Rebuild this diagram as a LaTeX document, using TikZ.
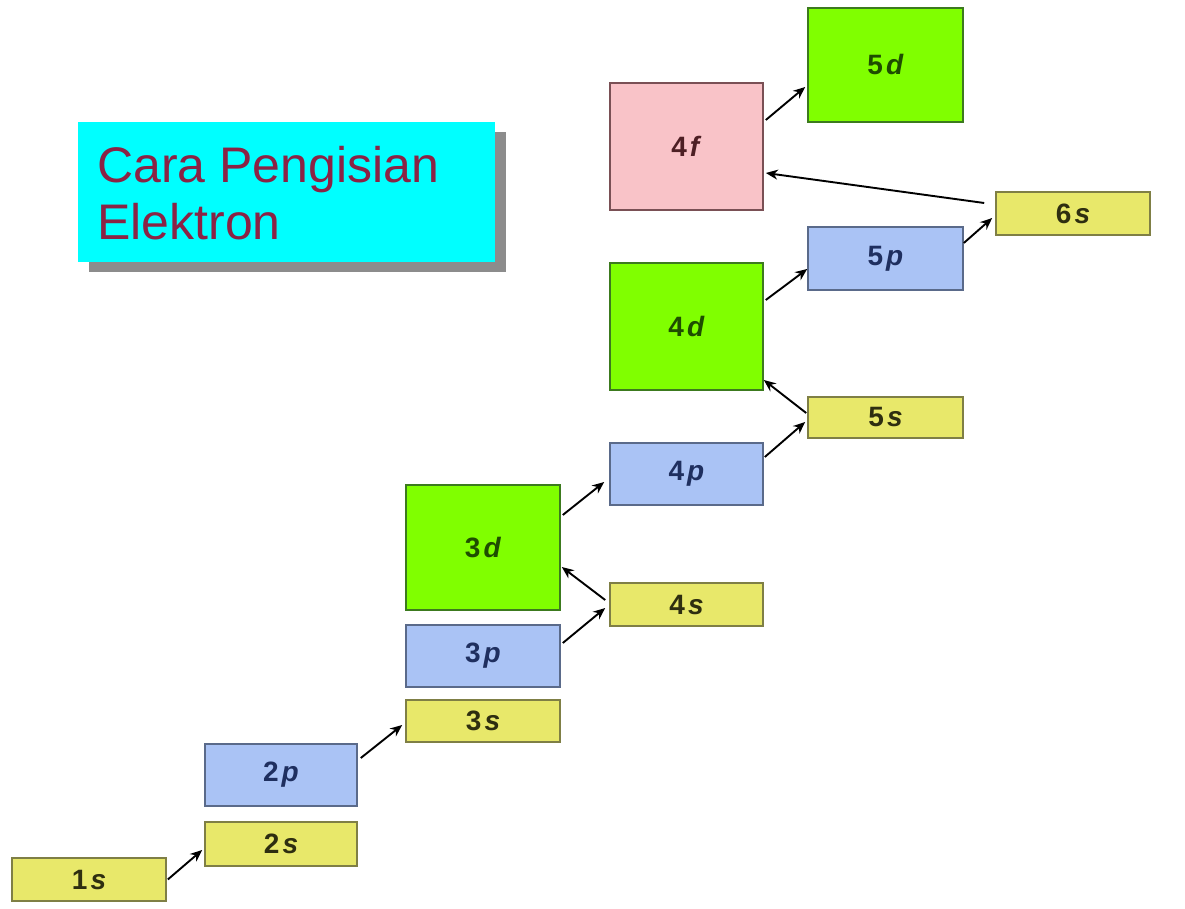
\documentclass[tikz,border=0pt]{standalone}
\usepackage{fontspec}
\setmainfont{Liberation Sans}
\usetikzlibrary{arrows.meta,shadows}
\definecolor{syel}{HTML}{E8E86A}
\definecolor{syelb}{HTML}{7F7F45}
\definecolor{pblu}{HTML}{AAC3F5}
\definecolor{pblub}{HTML}{5A6A8A}
\definecolor{dgrn}{HTML}{80FF00}
\definecolor{dgrnb}{HTML}{3C7A1E}
\definecolor{fpnk}{HTML}{F9C3C8}
\definecolor{fpnkb}{HTML}{7A5055}
\definecolor{tcyan}{HTML}{00FFFF}
\definecolor{tshadow}{HTML}{8C8C8C}
\definecolor{tmaroon}{HTML}{8A2345}
\definecolor{stxt}{HTML}{2E2E10}
\definecolor{ptxt}{HTML}{1F2F5F}
\definecolor{dtxt}{HTML}{1E4D00}
\definecolor{ftxt}{HTML}{4D1F24}
\newcommand{\orbl}[2]{\textbf{#1\kern3pt\textit{#2}}}
\begin{document}
\begin{tikzpicture}[x=1pt,y=-1pt,
  orb/.style={draw,line width=1.6pt,inner sep=0pt,font=\fontsize{28}{30}\selectfont},
  sorb/.style={orb,fill=syel,draw=syelb,text=stxt},
  porb/.style={orb,fill=pblu,draw=pblub,text=ptxt},
  dorb/.style={orb,fill=dgrn,draw=dgrnb,text=dtxt},
  forb/.style={orb,fill=fpnk,draw=fpnkb,text=ftxt},
  conn/.style={line width=1.9pt,black,-{Stealth[length=12pt,width=10pt]}},
  titlebox/.style={fill=tcyan,inner sep=0pt,
    drop shadow={shadow xshift=11pt,shadow yshift=-10pt,fill=tshadow,opacity=1}},
  titletext/.style={text=tmaroon,inner sep=0pt,align=left,
    font=\fontsize{50}{57}\selectfont}]
\useasboundingbox[fill=white] (0,0) rectangle (1185,909);
% title
\node[titlebox,minimum width=417pt,minimum height=140pt] (title) at (286.5,192) {};
\node[titletext,anchor=base west] (ttext) at (97,240) {Cara Pengisian\\Elektron};
% orbitals
\node[sorb,minimum width=154pt,minimum height=43pt] (o1s) at (89,879.5) {\orbl{1}{s}};
\node[sorb,minimum width=152pt,minimum height=44pt] (o2s) at (281,844) {\orbl{2}{s}};
\node[porb,minimum width=152pt,minimum height=62pt] (o2p) at (281,775) {\orbl{2}{p}};
\node[sorb,minimum width=154pt,minimum height=42pt] (o3s) at (483,721) {\orbl{3}{s}};
\node[porb,minimum width=154pt,minimum height=62pt] (o3p) at (483,656) {\orbl{3}{p}};
\node[dorb,minimum width=154pt,minimum height=125pt] (o3d) at (483,547.5) {\orbl{3}{d}};
\node[sorb,minimum width=153pt,minimum height=43pt] (o4s) at (686.5,604.5) {\orbl{4}{s}};
\node[porb,minimum width=153pt,minimum height=62pt] (o4p) at (686.5,474) {\orbl{4}{p}};
\node[dorb,minimum width=153pt,minimum height=127pt] (o4d) at (686.5,326.5) {\orbl{4}{d}};
\node[sorb,minimum width=155pt,minimum height=41pt] (o5s) at (885.5,417.5) {\orbl{5}{s}};
\node[porb,minimum width=155pt,minimum height=63pt] (o5p) at (885.5,258.5) {\orbl{5}{p}};
\node[forb,minimum width=153pt,minimum height=127pt] (o4f) at (686.5,146.5) {\orbl{4}{f}};
\node[dorb,minimum width=155pt,minimum height=114pt] (o5d) at (885.5,65) {\orbl{5}{d}};
\node[sorb,minimum width=154pt,minimum height=43pt] (o6s) at (1073,213.5) {\orbl{6}{s}};
% connectors
\draw[conn] ([xshift=1pt]o1s.east) -- ([xshift=-2pt,yshift=-6pt]o2s.west);
\draw[conn] ([xshift=3pt,yshift=17pt]o2p.east) -- ([xshift=-3pt,yshift=-4pt]o3s.west);
\draw[conn] ([xshift=2pt,yshift=13pt]o3p.east) -- ([xshift=-4pt,yshift=-3.5pt]o4s.west);
\draw[conn] ([xshift=-4pt,yshift=4.5pt]o4s.west) -- ([xshift=1pt,yshift=-19.5pt]o3d.east);
\draw[conn] ([xshift=2pt,yshift=32.5pt]o3d.east) -- ([xshift=-5pt,yshift=-8pt]o4p.west);
\draw[conn] ([xshift=1pt,yshift=17pt]o4p.east) -- ([xshift=-2pt,yshift=-4.5pt]o5s.west);
\draw[conn] ([xshift=-1pt,yshift=4.5pt]o5s.west) -- ([yshift=-53.5pt]o4d.east);
\draw[conn] ([xshift=2pt,yshift=26.5pt]o4d.east) -- ([yshift=-10.5pt]o5p.west);
\draw[conn] ([yshift=15.5pt]o5p.east) -- ([xshift=-3pt,yshift=-4.5pt]o6s.west);
\draw[conn] ([xshift=-11pt,yshift=10.5pt]o6s.west) -- ([xshift=2pt,yshift=-26.5pt]o4f.east);
\draw[conn] ([xshift=2pt,yshift=26.5pt]o4f.east) -- ([xshift=-2pt,yshift=-22pt]o5d.west);
\end{tikzpicture}
\end{document}
